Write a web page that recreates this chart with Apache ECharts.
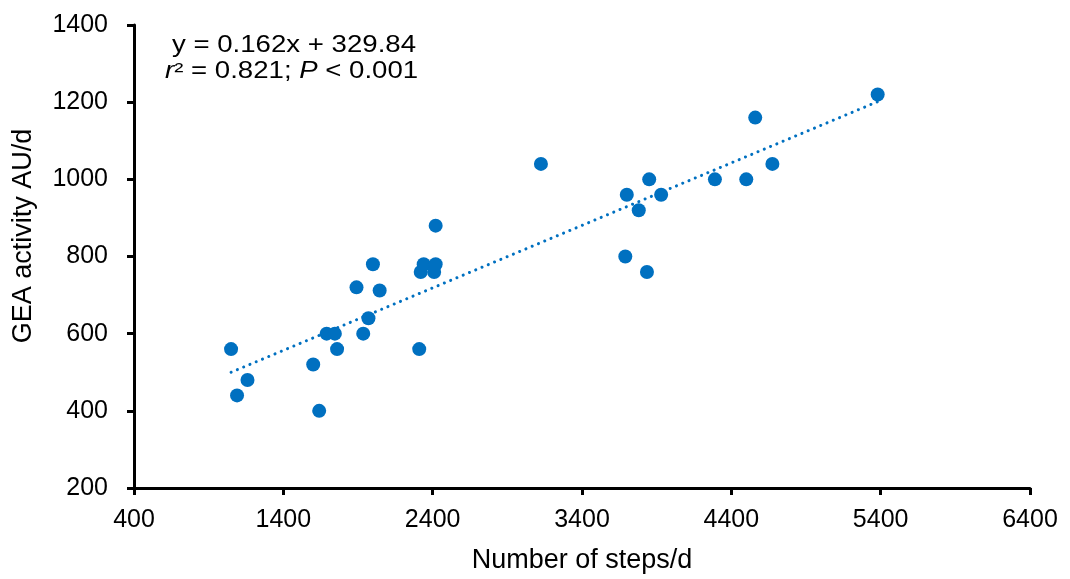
<!DOCTYPE html>
<html>
<head>
<meta charset="utf-8">
<script src="https://cdn.jsdelivr.net/npm/echarts@6/dist/echarts.min.js"></script>
<style>
  html, body { margin: 0; padding: 0; background: #fff; }
  #chart { width: 1070px; height: 579px; }
</style>
</head>
<body>
<div id="chart"></div>
<script>
// Daily step count vs GEA activity, one point per subject
const steps = [1050, 1090, 1160, 1600, 1640, 1690, 1745, 1760, 1890, 1935, 1970, 2000, 2045, 2310, 2320, 2340, 2410, 2420, 2420, 3125, 3700, 3690, 3850, 3780, 3835, 3930, 4290, 4500, 4560, 4675, 5380];
const gea   = [560, 440, 480, 520, 400, 600, 600, 560, 720, 600, 640, 780, 712, 560, 760, 780, 760, 780, 880, 1040, 960, 800, 1000, 920, 760, 960, 1000, 1000, 1160, 1040, 1220];

// Least-squares fit as reported in the annotation
const slope = 0.162;
const intercept = 329.84;

const xTicks = [400, 1400, 2400, 3400, 4400, 5400, 6400];
const yTicks = [200, 400, 600, 800, 1000, 1200, 1400];

const points = steps.map((s, i) => [s, gea[i]]);
const xMin = Math.min(...steps), xMax = Math.max(...steps);
const trend = [[xMin, slope * xMin + intercept], [xMax, slope * xMax + intercept]];

const blue = '#0070C0';
const font = '"Liberation Sans", Arial, sans-serif';
const plain = v => String(v);

const chart = echarts.init(document.getElementById('chart'), null, { renderer: 'canvas' });
chart.setOption({
  animation: false,
  backgroundColor: '#fff',
  grid: { left: 134, right: 40, top: 25, bottom: 87 },
  xAxis: {
    type: 'value',
    min: xTicks[0], max: xTicks[xTicks.length - 1], interval: 1000,
    name: 'Number of steps/d', nameLocation: 'middle', nameGap: 59,
    nameTextStyle: { fontFamily: font, fontSize: 27, color: '#000' },
    axisLine: { show: true, onZero: false, lineStyle: { color: '#000', width: 3 } },
    axisTick: { show: true, length: 7, lineStyle: { color: '#000', width: 3 } },
    axisLabel: { fontFamily: font, fontSize: 25, color: '#000', margin: 20, formatter: plain },
    splitLine: { show: false }
  },
  yAxis: {
    type: 'value',
    min: yTicks[0], max: yTicks[yTicks.length - 1], interval: 200,
    axisLine: { show: true, onZero: false, lineStyle: { color: '#000', width: 3 } },
    axisTick: { show: true, length: 7, lineStyle: { color: '#000', width: 3 } },
    axisLabel: { fontFamily: font, fontSize: 25, color: '#000', margin: 26, formatter: plain },
    splitLine: { show: false }
  },
  graphic: [
    {
      // vertical axis title, set a little above the axis midpoint
      type: 'text', x: 24, y: 236, rotation: Math.PI / 2,
      style: { text: 'GEA activity AU/d', font: '27px ' + font, fill: '#000', align: 'center', verticalAlign: 'middle' }
    },
    {
      type: 'text', x: 172, y: 34, scaleX: 1.2,
      style: { text: 'y = 0.162x + 329.84', font: '23px ' + font, fill: '#000', verticalAlign: 'top' }
    },
    {
      type: 'text', x: 165, y: 60, scaleX: 1.2,
      style: {
        text: '{i|r}² = 0.821; {i|P} < 0.001',
        font: '23px ' + font, fill: '#000', verticalAlign: 'top',
        rich: { i: { fontFamily: font, fontSize: 23, fontStyle: 'italic', fill: '#000' } }
      }
    }
  ],
  series: [
    {
      type: 'line', data: trend, symbol: 'none', silent: true, z: 1,
      lineStyle: { color: blue, width: 3, type: [0.1, 6.7], cap: 'round' }
    },
    {
      type: 'scatter', data: points, symbol: 'circle', symbolSize: 14, z: 2,
      itemStyle: { color: blue, opacity: 1 }
    }
  ]
});
</script>
</body>
</html>
